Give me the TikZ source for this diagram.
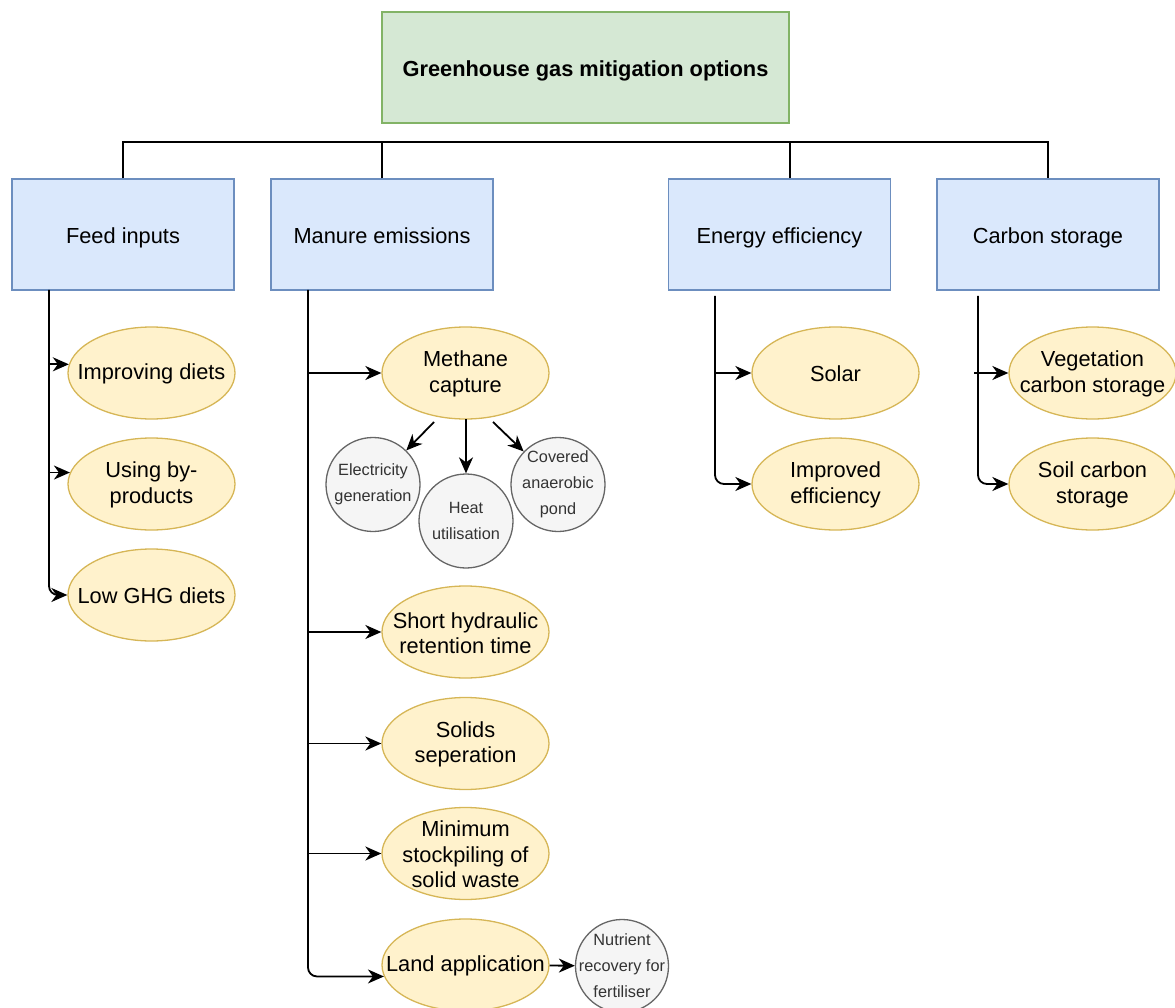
\documentclass[tikz,border=0pt]{standalone}
\usepackage{fontspec}
\setmainfont{Liberation Sans}
\usetikzlibrary{shapes.geometric,arrows.meta}
\definecolor{titlefill}{HTML}{D5E8D4}
\definecolor{titledraw}{HTML}{82B366}
\definecolor{boxfill}{HTML}{DAE8FC}
\definecolor{boxdraw}{HTML}{6C8EBF}
\definecolor{ellfill}{HTML}{FFF2CC}
\definecolor{elldraw}{HTML}{D6B656}
\definecolor{circfill}{HTML}{F5F5F5}
\definecolor{circdraw}{HTML}{666666}
\definecolor{circtext}{HTML}{333333}
\begin{document}
\begin{tikzpicture}[x=1pt,y=-1pt,
  bigfont/.style={font=\fontsize{21.8}{25.5}\selectfont},
  titlebox/.style={draw=titledraw, fill=titlefill, line width=1.3pt, minimum width=407pt, minimum height=111pt, inner sep=0pt, text height=22pt, text depth=4pt, font=\fontsize{21.8}{25.5}\selectfont\bfseries},
  catbox/.style={draw=boxdraw, fill=boxfill, line width=1.3pt, minimum width=222pt, minimum height=111pt, inner sep=0pt, text height=22pt, text depth=4pt, bigfont},
  opt/.style={ellipse, draw=elldraw, fill=ellfill, line width=1.3pt, minimum width=167pt, minimum height=92pt, inner sep=0pt},
  opttext/.style={align=center, bigfont, inner sep=0pt, text=black, yshift=-1pt},
  sub/.style={circle, draw=circdraw, fill=circfill, line width=1.3pt, minimum size=94pt, inner sep=0pt},
  subtext/.style={align=center, text=circtext, font=\fontsize{16.3}{26}\selectfont, inner sep=0pt},
  conn/.style={line width=1.8pt, draw=black},
  arr/.style={conn, -{Stealth[length=16pt,width=14pt,inset=5pt]}},
  arrc/.style={arr, rounded corners=9pt},
]
\useasboundingbox (0,0) rectangle (1175,1008);

% title and categories
\node[titlebox] (title) at (585.5,67.5) {Greenhouse gas mitigation options};
\node[catbox] (feed) at (123,234.5) {Feed inputs};
\node[catbox] (manure) at (382,234.5) {Manure emissions};
\node[catbox] (energy) at (779.5,234.5) {Energy efficiency};
\node[catbox] (carbon) at (1048,234.5) {Carbon storage};

% bus
\coordinate (bus) at (0,142);
\draw[conn] (feed.north) -- (feed.north |- bus) -- (carbon.north |- bus) -- (carbon.north);
\draw[conn] (manure.north) -- (manure.north |- bus);
\draw[conn] (energy.north -| title.south east) -- (title.south east |- bus);

% feed options
\node[opt, label={[opttext]center:{Improving diets}}] (imp) at (151.5,373) {};
\node[opt, label={[opttext]center:{Using by-\\products}}] (byp) at (151.5,484) {};
\node[opt, label={[opttext]center:{Low GHG diets}}] (low) at (151.5,595) {};

% manure options
\node[opt, label={[opttext]center:{Methane\\capture}}] (meth) at (465.5,373) {};
\node[opt, label={[opttext]center:{Short hydraulic\\retention time}}] (short) at (465.5,632) {};
\node[opt, label={[opttext]center:{Solids\\seperation}}] (solid) at (465.5,743.5) {};
\node[opt, label={[opttext]center:{Minimum\\stockpiling of\\solid waste}}] (mini) at (465.5,853.5) {};
\node[opt, label={[opttext]center:{Land application}}] (land) at (465.5,965) {};

% methane sub-options
\node[sub, label={[subtext]center:{Electricity\\generation}}] (elec) at (373,484.5) {};
\node[sub, label={[subtext]center:{Heat\\utilisation}}] (heat) at (466,521) {};
\node[sub, label={[subtext]center:{Covered\\anaerobic\\pond}}] (cover) at (558,484.5) {};
\node[sub, minimum size=93pt, label={[subtext]center:{Nutrient\\recovery for\\fertiliser}}] (nutr) at (622,966) {};

% energy options
\node[opt, label={[opttext]center:{Solar}}] (solar) at (835.5,373) {};
\node[opt, label={[opttext]center:{Improved\\efficiency}}] (impeff) at (835.5,484) {};

% carbon options
\node[opt, label={[opttext]center:{Vegetation\\carbon storage}}] (veg) at (1092.5,373) {};
\node[opt, label={[opttext]center:{Soil carbon\\storage}}] (soil) at (1092.5,484) {};

% connectors
\coordinate (fv) at (49,290);
\draw[arr] (fv |- imp.174) -- (imp.174);
\draw[arr] (fv |- byp.172) -- (byp.172);
\draw[arrc] (fv) |- (low.west);

\coordinate (mv) at (308,290);
\draw[arr] (mv |- meth.west) -- (meth.west);
\draw[arr] (mv |- short.west) -- (short.west);
\draw[arr] (mv |- solid.west) -- (solid.west);
\draw[arr] (mv |- mini.west) -- (mini.west);
\draw[arrc] (mv) |- (land.188);

\coordinate (m1) at (434,422);
\coordinate (m2) at (466,419);
\coordinate (m3) at (493,422);
\draw[arr] (m1) -- (elec);
\draw[arr] (m2) -- (heat);
\draw[arr] (m3) -- (cover);
\draw[arr] (land) -- (nutr);

\coordinate (ev) at (715,296);
\draw[arr] (ev |- solar.west) -- (solar.west);
\draw[arrc] (ev) |- (impeff.west);

\coordinate (cv) at (978,296);
\coordinate (cvl) at (974,373);
\draw[arr] (cvl) -- (veg.west);
\draw[arrc] (cv) |- (soil.west);
\end{tikzpicture}
\end{document}
